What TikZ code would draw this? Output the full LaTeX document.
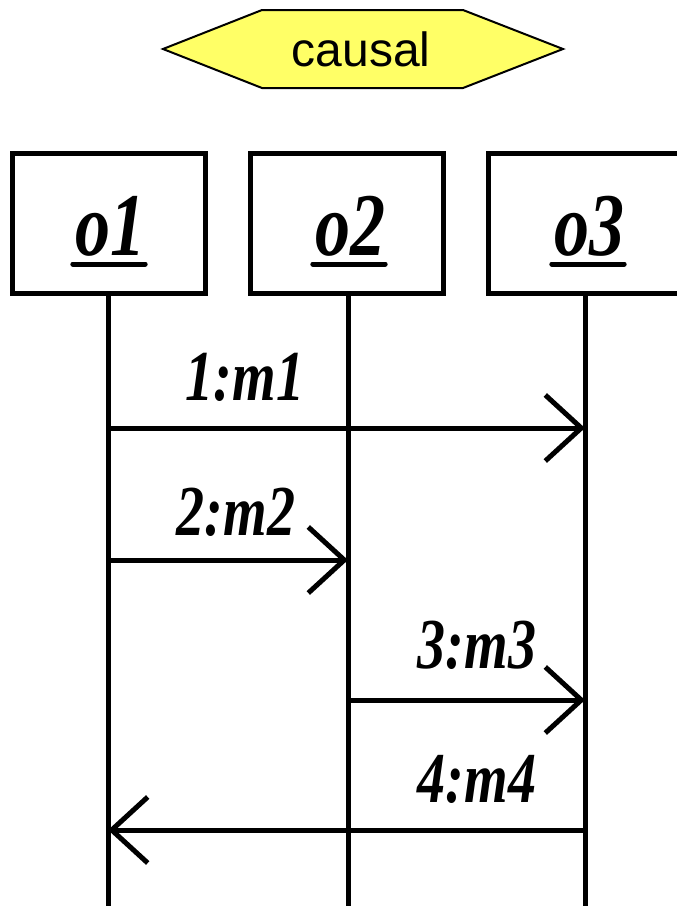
\documentclass[tikz,border=0pt]{standalone}
\usepackage{fontspec}
\setmainfont{Liberation Serif}
\newfontfamily\hexfont{Liberation Sans}
\usetikzlibrary{arrows.meta}
\definecolor{hexyellow}{HTML}{FFFF66}
\tikzset{
  obj/.style={draw, line width=5pt, minimum width=193pt, minimum height=140pt, inner sep=0pt},
  life/.style={line width=5pt},
  msg/.style={line width=5pt, -{Straight Barb[length=36pt,width=66pt,line width=5pt]}},
  olab/.style={inner sep=0pt, anchor=base, font=\fontsize{70}{70}\selectfont\bfseries\itshape},
  mlab/.style={inner sep=0pt, anchor=base, font=\fontsize{56}{56}\selectfont\bfseries\itshape},
  uline/.style={line width=5pt, line cap=round},
}
\newcommand{\tallt}[1]{\scalebox{1}[1.28]{#1}}
\begin{document}
\begin{tikzpicture}[x=1pt,y=-1pt]
\useasboundingbox (0,0) rectangle (677,906);
\clip (0,0) rectangle (677,906);
% stereotype hexagon
\draw[line width=2pt, fill=hexyellow] (163,49) -- (262,10) -- (463,10) -- (563,49) -- (463,88) -- (262,88) -- cycle;
\node[inner sep=0pt, font=\hexfont\fontsize{48}{48}\selectfont] (causal) at (361,49) {causal};
% objects
\node[obj] (o1) at (108.5,223) {};
\node[obj] (o2) at (346.5,223) {};
\node[obj] (o3) at (584.5,223) {};
\node[olab] (t1) at (110,255) {\tallt{o1}};
\node[olab] (t2) at (350,255) {\tallt{o2}};
\node[olab] (t3) at (589,255) {\tallt{o3}};
\draw[uline] ([yshift=-9pt,xshift=-2pt]t1.base west) -- ([yshift=-9pt]t1.base east);
\draw[uline] ([yshift=-9pt,xshift=-2pt]t2.base west) -- ([yshift=-9pt]t2.base east);
\draw[uline] ([yshift=-9pt,xshift=-2pt]t3.base west) -- ([yshift=-9pt]t3.base east);
% lifelines
\coordinate (e1) at (108,906);
\coordinate (e2) at (348,906);
\coordinate (e3) at (585,906);
\draw[life] (o1.south -| e1) -- (e1);
\draw[life] (o2.south -| e2) -- (e2);
\draw[life] (o3.south -| e3) -- (e3);
% message points
\coordinate (a1) at (108,428); \coordinate (c1) at (585,428);
\coordinate (a2) at (108,560); \coordinate (b2) at (348,560);
\coordinate (b3) at (348,700); \coordinate (c3) at (585,700);
\coordinate (c4) at (585,830); \coordinate (a4) at (108,830);
\draw[msg] (a1) -- (c1);
\draw[msg] (a2) -- (b2);
\draw[msg] (b3) -- (c3);
\draw[msg] (c4) -- (a4);
% labels
\node[mlab] (m1) at (245,400) {\tallt{1:m1}};
\node[mlab] (m2) at (236,535) {\tallt{2:m2}};
\node[mlab] (m3) at (477,668) {\tallt{3:m3}};
\node[mlab] (m4) at (477,802) {\tallt{4:m4}};
\end{tikzpicture}
\end{document}
